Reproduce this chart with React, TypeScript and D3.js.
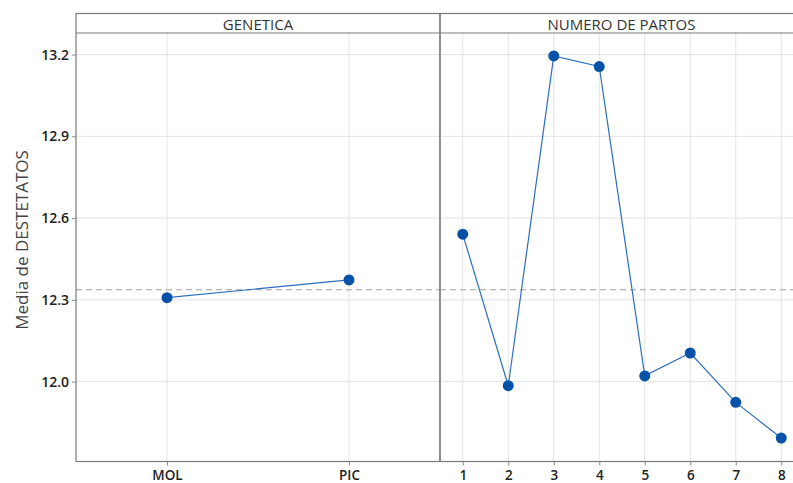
import React, { useEffect, useRef } from 'react';
import * as d3 from 'd3';

// main effects data
const geneticaCats = ['MOL', 'PIC'];
const geneticaMeans = [12.308, 12.373];
const partosCats = ['1', '2', '3', '4', '5', '6', '7', '8'];
const partosMeans = [12.541, 11.985, 13.195, 13.156, 12.021, 12.105, 11.924, 11.793];
const yTicks = [12.0, 12.3, 12.6, 12.9, 13.2];
const grandMean = 12.337;

export default function App() {
  const ref = useRef<SVGSVGElement>(null);

  useEffect(() => {
    const width = 793;
    const height = 483;
    const top = 33; // below panel header
    const headerTop = 13.5;
    const bottom = 461.5;
    const font = '"Open Sans", "Noto Sans", sans-serif';

    const svg = d3.select(ref.current);
    svg.selectAll('*').remove();
    svg.attr('width', width).attr('height', height).style('background', 'white');

    const y = d3.scaleLinear().domain([11.707, 13.279]).range([bottom, top]);

    const panels = [
      { title: 'GENETICA', cats: geneticaCats, vals: geneticaMeans, x0: 76, x1: 440 },
      { title: 'NUMERO DE PARTOS', cats: partosCats, vals: partosMeans, x0: 440, x1: 804 },
    ];

    panels.forEach(p => {
      const x = d3.scalePoint<string>().domain(p.cats).range([p.x0, p.x1]).padding(0.5);
      const g = svg.append('g');

      // gridlines
      g.selectAll('.vg').data(p.cats).enter().append('line')
        .attr('x1', d => x(d)!).attr('x2', d => x(d)!)
        .attr('y1', top).attr('y2', bottom)
        .attr('stroke', '#e3e3e3').attr('stroke-width', 1);
      g.selectAll('.hg').data(yTicks).enter().append('line')
        .attr('x1', p.x0).attr('x2', p.x1)
        .attr('y1', d => y(d)).attr('y2', d => y(d))
        .attr('stroke', '#e3e3e3').attr('stroke-width', 1);

      // reference line at grand mean
      g.append('line')
        .attr('x1', p.x0).attr('x2', p.x1)
        .attr('y1', y(grandMean)).attr('y2', y(grandMean))
        .attr('stroke', '#a0a0a0').attr('stroke-width', 1)
        .attr('stroke-dasharray', '6,4');

      // the line + markers
      const line = d3.line<number>()
        .x((_, i) => x(p.cats[i])!)
        .y(d => y(d));
      g.append('path')
        .datum(p.vals)
        .attr('d', line)
        .attr('fill', 'none')
        .attr('stroke', '#2a6ebd')
        .attr('stroke-width', 1.2);
      g.selectAll('circle').data(p.vals).enter().append('circle')
        .attr('cx', (_, i) => x(p.cats[i])!)
        .attr('cy', d => y(d))
        .attr('r', 5.5)
        .attr('fill', '#0552a8');

      // panel frame + header
      g.append('rect')
        .attr('x', p.x0).attr('y', headerTop)
        .attr('width', p.x1 - p.x0).attr('height', bottom - headerTop)
        .attr('fill', 'none').attr('stroke', '#7a7a7a').attr('stroke-width', 1.2);
      g.append('line')
        .attr('x1', p.x0).attr('x2', p.x1)
        .attr('y1', top).attr('y2', top)
        .attr('stroke', '#7a7a7a').attr('stroke-width', 1.2);
      g.append('text')
        .attr('x', (p.x0 + Math.min(p.x1, width)) / 2 + (p.x1 > width ? 5 : 0))
        .attr('y', 29.5)
        .attr('text-anchor', 'middle')
        .style('font-family', font)
        .style('font-size', '15px')
        .attr('fill', '#333')
        .text(p.title);

      // x axis ticks
      const xAxis = d3.axisBottom(x).tickSize(4).tickPadding(5);
      const ax = g.append('g')
        .attr('transform', `translate(0, ${bottom})`)
        .call(xAxis);
      ax.select('.domain').remove();
      ax.selectAll('line').attr('stroke', '#888');
      ax.selectAll('text')
        .style('font-family', font)
        .style('font-size', '13.5px')
        .style('font-weight', '600')
        .attr('fill', '#222');
    });

    // y axis
    const yAxis = d3.axisLeft(y).tickValues(yTicks).tickFormat(d3.format('.1f')).tickSize(4).tickPadding(3);
    const ay = svg.append('g').attr('transform', 'translate(76, 0)').call(yAxis);
    ay.select('.domain').remove();
    ay.selectAll('line').attr('stroke', '#888');
    ay.selectAll('text')
      .style('font-family', font)
      .style('font-size', '14px')
      .style('font-weight', '600')
      .attr('fill', '#222');

    // y label
    svg.append('text')
      .attr('transform', 'rotate(-90)')
      .attr('x', -240)
      .attr('y', 28)
      .attr('text-anchor', 'middle')
      .style('font-family', font)
      .style('font-size', '17px')
      .attr('fill', '#444')
      .text('Media de DESTETATOS');
  }, []);

  return (
    <svg ref={ref} style={{ position: 'absolute', left: 0, top: 0, display: 'block' }}></svg>
  );
}
